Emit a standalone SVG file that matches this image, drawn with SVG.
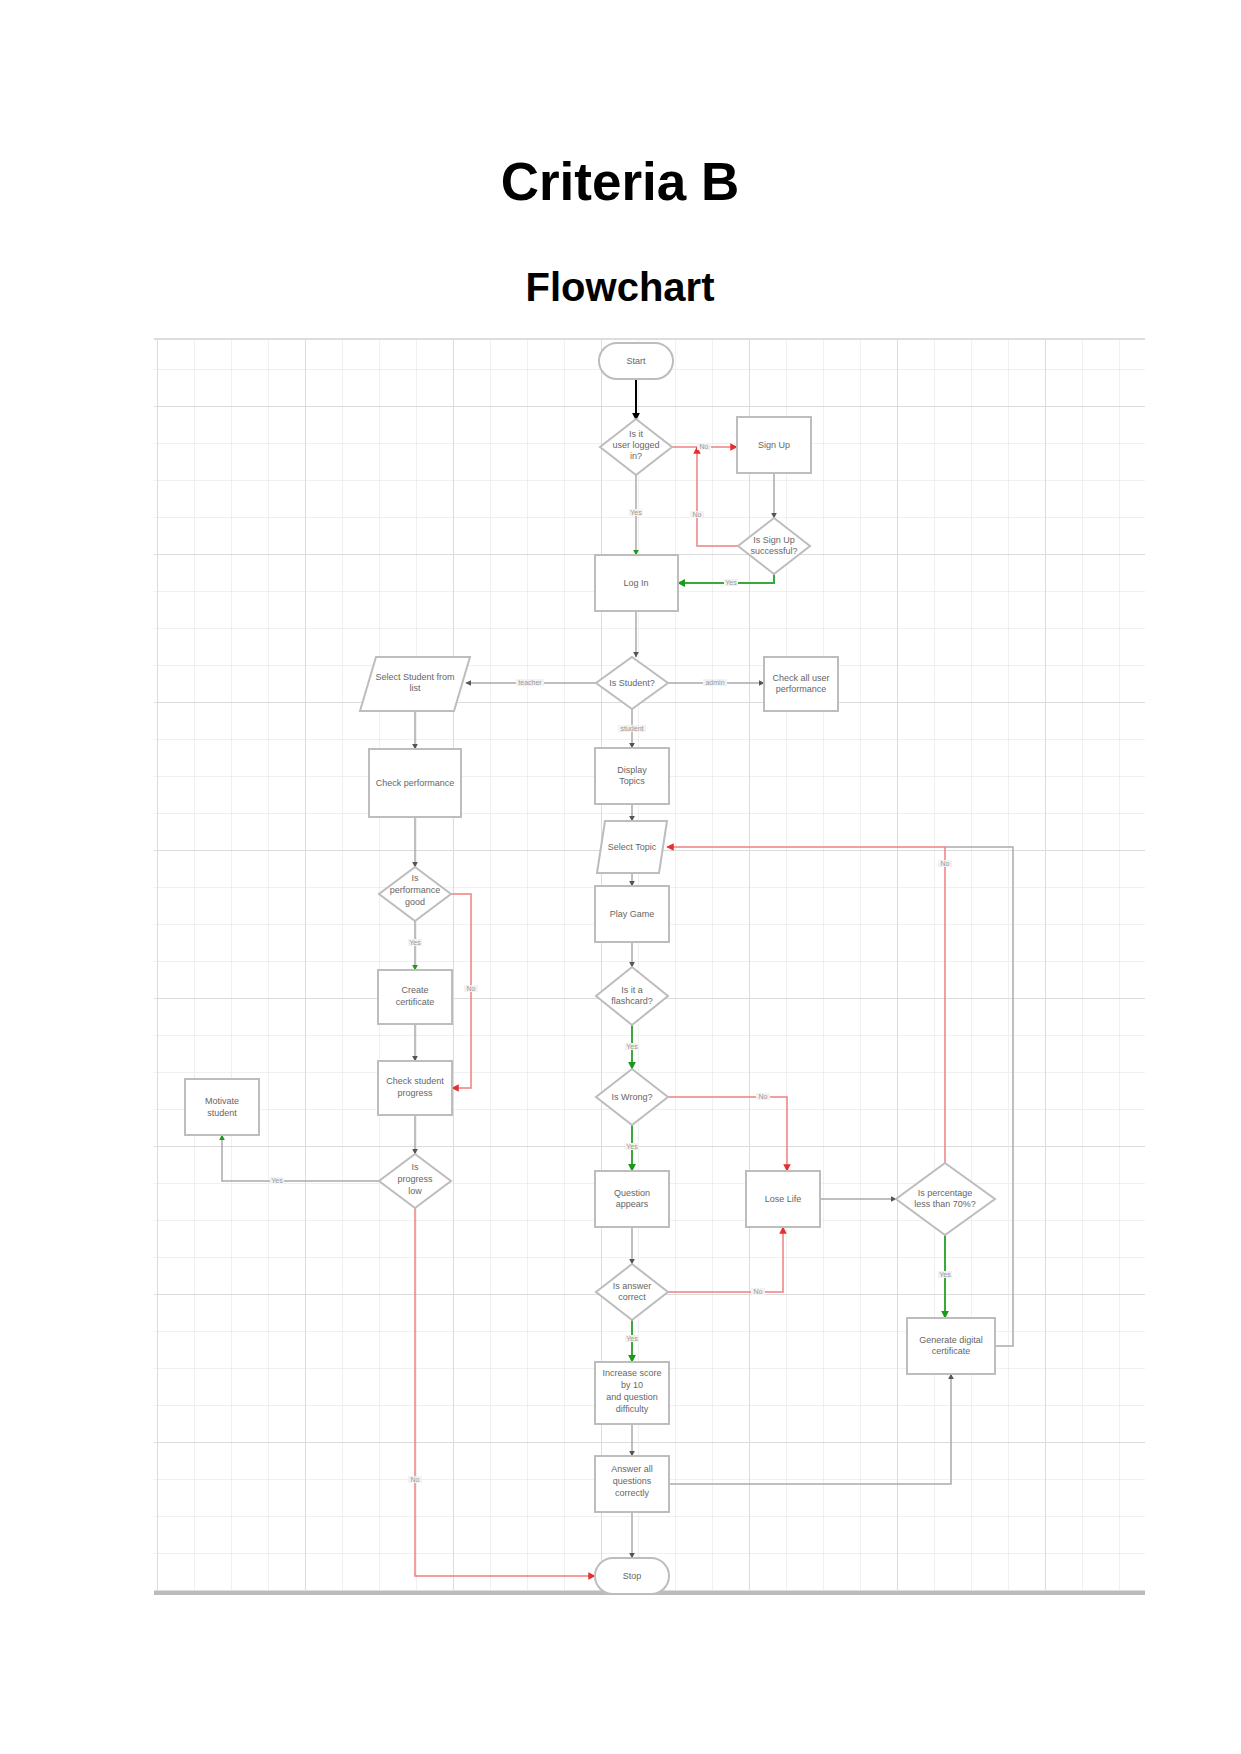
<svg xmlns="http://www.w3.org/2000/svg" width="1241" height="1754" viewBox="0 0 1241 1754">
<defs>
<pattern id="minor" x="157" y="369" width="37" height="37" patternUnits="userSpaceOnUse"><path d="M0 0V37M0 0H37" fill="none" stroke="#ececec" stroke-width="1.5"/></pattern>
<pattern id="major" x="157" y="406" width="148" height="148" patternUnits="userSpaceOnUse"><path d="M0 0V148M0 0H148" fill="none" stroke="#dcdcdc" stroke-width="2"/></pattern>
<marker id="ag" viewBox="0 0 10 10" refX="9" refY="5" markerWidth="4" markerHeight="4" orient="auto"><path d="M0 0L10 5L0 10z" fill="#555"/></marker>
<marker id="ak" viewBox="0 0 10 10" refX="9" refY="5" markerWidth="4" markerHeight="4" orient="auto"><path d="M0 0L10 5L0 10z" fill="#000"/></marker>
<marker id="agr" viewBox="0 0 10 10" refX="9" refY="5" markerWidth="4" markerHeight="4" orient="auto"><path d="M0 0L10 5L0 10z" fill="#1a9a1a"/></marker>
<marker id="ar" viewBox="0 0 10 10" refX="9" refY="5" markerWidth="5" markerHeight="5" orient="auto"><path d="M0 0L10 5L0 10z" fill="#e53030"/></marker>
</defs>
<style>
.title{font-family:"Liberation Sans",Arial,sans-serif;font-weight:bold;fill:#000;text-anchor:middle}
.n{fill:#fff;stroke:#bdbdbd;stroke-width:2}
.t{font-family:"Liberation Sans",Arial,sans-serif;font-size:9px;fill:#666;text-anchor:middle}
.l{font-family:"Liberation Sans",Arial,sans-serif;font-size:7px;fill:#999;text-anchor:middle}
.c{fill:none;stroke:#aaa;stroke-width:1.5}
.g{fill:none;stroke:#aaa;stroke-width:1.5;marker-end:url(#ag)}
.gr{fill:none;stroke:#aaa;stroke-width:1.5;marker-end:url(#agr)}
.gg{fill:none;stroke:#3aa83a;stroke-width:2;marker-end:url(#agr)}
.r{fill:none;stroke:#f08080;stroke-width:1.5;marker-end:url(#ar)}
.lb{fill:#f2f2f2}
</style>
<rect width="1241" height="1754" fill="#fff"/>
<text class="title" x="620" y="200" font-size="53">Criteria B</text>
<text class="title" x="620" y="301" font-size="40">Flowchart</text>
<g id="grid">
<rect x="154" y="339" width="991" height="1254" fill="url(#minor)"/>
<rect x="154" y="339" width="991" height="1254" fill="url(#major)"/>
<line x1="154" y1="339" x2="1145" y2="339" stroke="#ddd" stroke-width="2"/>
<line x1="154" y1="1593" x2="1145" y2="1593" stroke="#bbb" stroke-width="4"/>
</g>
<g id="connectors">
<path d="M636 379V420" fill="none" stroke="#000" stroke-width="2" marker-end="url(#ak)"/>
<path class="r" d="M672 447H737"/>
<path class="gr" d="M636 475V555"/>
<path class="g" d="M774 473V518"/>
<path class="r" d="M744 546H697V447"/>
<path class="gg" d="M774 574V583H678"/>
<path class="g" d="M636 611V657"/>
<path class="g" d="M596 683H466"/>
<path class="g" d="M668 683H764"/>
<path class="g" d="M632 709V748"/>
<path class="g" d="M632 804V821"/>
<path class="g" d="M632 873V886"/>
<path class="g" d="M632 942V967"/>
<path class="gg" d="M632 1025V1069"/>
<path class="gg" d="M632 1125V1171"/>
<path class="r" d="M668 1097H787V1171"/>
<path class="g" d="M632 1227V1264"/>
<path class="gg" d="M632 1320V1362"/>
<path class="r" d="M668 1292H783V1227"/>
<path class="g" d="M632 1424V1456"/>
<path class="g" d="M632 1512V1558"/>
<path class="g" d="M820 1199H896"/>
<path class="gg" d="M945 1235V1318"/>
<path class="r" d="M945 1163V847H667"/>
<path class="c" d="M995 1346H1013V847H945"/>
<path class="g" d="M669 1484H951V1374"/>
<path class="g" d="M415 711V749"/>
<path class="g" d="M415 817V867"/>
<path class="gr" d="M415 921V970"/>
<path class="r" d="M451 894H471V1088H452"/>
<path class="g" d="M415 1024V1061"/>
<path class="g" d="M415 1115V1154"/>
<path class="gr" d="M379 1181H222V1135"/>
<path class="r" d="M415 1208V1576H595"/>
<rect class="lb" x="697" y="443" width="14" height="7"/><text class="l" x="704" y="449">No</text>
<rect class="lb" x="629" y="509" width="14" height="7"/><text class="l" x="636" y="515">Yes</text>
<rect class="lb" x="690" y="511" width="14" height="7"/><text class="l" x="697" y="517">No</text>
<rect class="lb" x="724" y="579" width="14" height="7"/><text class="l" x="731" y="585">Yes</text>
<rect class="lb" x="516" y="679" width="28" height="7"/><text class="l" x="530" y="685">teacher</text>
<rect class="lb" x="703" y="679" width="24" height="7"/><text class="l" x="715" y="685">admin</text>
<rect class="lb" x="618" y="725" width="28" height="7"/><text class="l" x="632" y="731">student</text>
<rect class="lb" x="408" y="939" width="14" height="7"/><text class="l" x="415" y="945">Yes</text>
<rect class="lb" x="464" y="985" width="14" height="7"/><text class="l" x="471" y="991">No</text>
<rect class="lb" x="270" y="1177" width="14" height="7"/><text class="l" x="277" y="1183">Yes</text>
<rect class="lb" x="408" y="1476" width="14" height="7"/><text class="l" x="415" y="1482">No</text>
<rect class="lb" x="625" y="1043" width="14" height="7"/><text class="l" x="632" y="1049">Yes</text>
<rect class="lb" x="625" y="1143" width="14" height="7"/><text class="l" x="632" y="1149">Yes</text>
<rect class="lb" x="756" y="1093" width="14" height="7"/><text class="l" x="763" y="1099">No</text>
<rect class="lb" x="625" y="1335" width="14" height="7"/><text class="l" x="632" y="1341">Yes</text>
<rect class="lb" x="751" y="1288" width="14" height="7"/><text class="l" x="758" y="1294">No</text>
<rect class="lb" x="938" y="860" width="14" height="7"/><text class="l" x="945" y="866">No</text>
<rect class="lb" x="938" y="1271" width="14" height="7"/><text class="l" x="945" y="1277">Yes</text>
</g>
<g id="start"><rect class="n" x="599" y="343" width="74" height="36" rx="18"/><text class="t" x="636" y="364">Start</text></g>
<g id="logged"><path class="n" d="M636 419L672 447L636 475L600 447z"/><text class="t" x="636" y="437">Is it</text><text class="t" x="636" y="448">user logged</text><text class="t" x="636" y="459">in?</text></g>
<g id="signup"><rect class="n" x="737" y="417" width="74" height="56"/><text class="t" x="774" y="448">Sign Up</text></g>
<g id="signupok"><path class="n" d="M774 518L810 546L774 574L738 546z"/><text class="t" x="774" y="543">Is Sign Up</text><text class="t" x="774" y="554">successful?</text></g>
<g id="login"><rect class="n" x="595" y="555" width="83" height="56"/><text class="t" x="636" y="586">Log In</text></g>
<g id="usertype"><path class="n" d="M632 657L668 683L632 709L596 683z"/><text class="t" x="632" y="686">Is Student?</text></g>
<g id="selectstudent"><path class="n" d="M376 657H470L454 711H360z"/><text class="t" x="415" y="680">Select Student from</text><text class="t" x="415" y="691">list</text></g>
<g id="checkall"><rect class="n" x="764" y="657" width="74" height="54"/><text class="t" x="801" y="681">Check all user</text><text class="t" x="801" y="692">performance</text></g>
<g id="display"><rect class="n" x="595" y="748" width="74" height="56"/><text class="t" x="632" y="773">Display</text><text class="t" x="632" y="784">Topics</text></g>
<g id="selecttopic"><path class="n" d="M605 821H667L659 873H597z"/><text class="t" x="632" y="850">Select Topic</text></g>
<g id="play"><rect class="n" x="595" y="886" width="74" height="56"/><text class="t" x="632" y="917">Play Game</text></g>
<g id="quiz"><path class="n" d="M632 967L668 996L632 1025L596 996z"/><text class="t" x="632" y="993">Is it a</text><text class="t" x="632" y="1004">flashcard?</text></g>
<g id="wrong"><path class="n" d="M632 1069L668 1097L632 1125L596 1097z"/><text class="t" x="632" y="1100">Is Wrong?</text></g>
<g id="question"><rect class="n" x="595" y="1171" width="74" height="56"/><text class="t" x="632" y="1196">Question</text><text class="t" x="632" y="1207">appears</text></g>
<g id="correct"><path class="n" d="M632 1264L668 1292L632 1320L596 1292z"/><text class="t" x="632" y="1289">Is answer</text><text class="t" x="632" y="1300">correct</text></g>
<g id="increase"><rect class="n" x="595" y="1362" width="74" height="62"/><text class="t" x="632" y="1376">Increase score</text><text class="t" x="632" y="1388">by 10</text><text class="t" x="632" y="1400">and question</text><text class="t" x="632" y="1412">difficulty</text></g>
<g id="answerall"><rect class="n" x="595" y="1456" width="74" height="56"/><text class="t" x="632" y="1472">Answer all</text><text class="t" x="632" y="1484">questions</text><text class="t" x="632" y="1496">correctly</text></g>
<g id="end"><rect class="n" x="595" y="1558" width="74" height="36" rx="18"/><text class="t" x="632" y="1579">Stop</text></g>
<g id="lose"><rect class="n" x="746" y="1171" width="74" height="56"/><text class="t" x="783" y="1202">Lose Life</text></g>
<g id="percent"><path class="n" d="M945 1163L995 1199L945 1235L896 1199z"/><text class="t" x="945" y="1196">Is percentage</text><text class="t" x="945" y="1207">less than 70%?</text></g>
<g id="certificate"><rect class="n" x="907" y="1318" width="88" height="56"/><text class="t" x="951" y="1343">Generate digital</text><text class="t" x="951" y="1354">certificate</text></g>
<g id="checkperf"><rect class="n" x="369" y="749" width="92" height="68"/><text class="t" x="415" y="786">Check performance</text></g>
<g id="perfgood"><path class="n" d="M415 867L451 894L415 921L379 894z"/><text class="t" x="415" y="881">Is</text><text class="t" x="415" y="893">performance</text><text class="t" x="415" y="905">good</text></g>
<g id="createcert"><rect class="n" x="378" y="970" width="74" height="54"/><text class="t" x="415" y="993">Create</text><text class="t" x="415" y="1005">certificate</text></g>
<g id="checkprog"><rect class="n" x="378" y="1061" width="74" height="54"/><text class="t" x="415" y="1084">Check student</text><text class="t" x="415" y="1096">progress</text></g>
<g id="proglow"><path class="n" d="M415 1154L451 1181L415 1208L379 1181z"/><text class="t" x="415" y="1170">Is</text><text class="t" x="415" y="1182">progress</text><text class="t" x="415" y="1194">low</text></g>
<g id="motivate"><rect class="n" x="185" y="1079" width="74" height="56"/><text class="t" x="222" y="1104">Motivate</text><text class="t" x="222" y="1116">student</text></g>
</svg>
